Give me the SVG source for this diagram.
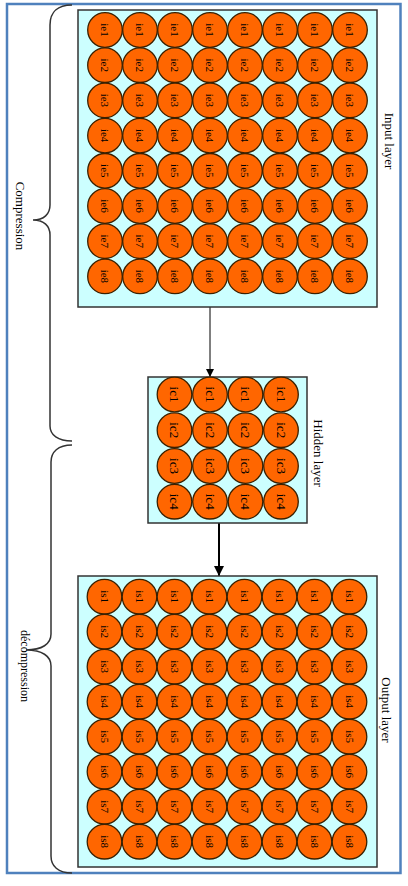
<svg xmlns="http://www.w3.org/2000/svg" width="408" height="886" viewBox="0 0 408 886">
<defs>
<style>
.frame{fill:#fff;stroke:#4f81bd;stroke-width:2.5}
.box{fill:#ccffff;stroke:#333;stroke-width:1.5}
.n{fill:#ff6600;stroke:#3a2000;stroke-width:1.3}
.lb{font-family:"Liberation Serif",serif;font-size:11px;fill:#000;text-anchor:middle;dominant-baseline:central}
.lh{font-family:"Liberation Serif",serif;font-size:13px;fill:#000;text-anchor:middle;dominant-baseline:central}
.tt{font-family:"Liberation Serif",serif;font-size:13px;fill:#000;text-anchor:middle;dominant-baseline:central}
.brace{fill:none;stroke:#333;stroke-width:1.5}
.conn{stroke:#000;fill:none}
</style>
<marker id="ah" viewBox="0 0 10 10" refX="10" refY="5" markerWidth="8" markerHeight="8" markerUnits="userSpaceOnUse" orient="auto"><path d="M0,0 L10,5 L0,10 z" fill="#000"/></marker>
<marker id="ah2" viewBox="0 0 10 10" refX="10" refY="5" markerWidth="10" markerHeight="10" markerUnits="userSpaceOnUse" orient="auto"><path d="M0,0 L10,5 L0,10 z" fill="#000"/></marker>
<circle id="c" r="17.3" class="n"/>
</defs>
<rect class="frame" x="7" y="4" width="393.5" height="869"/>

<g id="braces">
<path class="brace" d="M72,5 C58,5 50,12 50,25 L50,205 C50,214 44,220 33,220 C44,220 50,226 50,235 L50,426 C50,435 58,441 72,441"/>
<path class="brace" d="M72,445 C58,445 51,452 51,462 L51,634 C51,644 42,650 26,650 C42,650 51,656 51,666 L51,856 C51,866 58,873 72,873"/>
<text class="tt" transform="translate(20,216) rotate(90)">Compression</text>
<text class="tt" font-size="12" style="font-size:12px" transform="translate(25,666) rotate(90)">décompression</text>
</g>

<g id="connectors">
<line class="conn" x1="210" y1="307" x2="210" y2="377" stroke-width="1" marker-end="url(#ah)"/>
<line class="conn" x1="219" y1="523" x2="219" y2="576" stroke-width="2" marker-end="url(#ah2)"/>
</g>

<g id="input-layer">
<rect class="box" x="78" y="10" width="299" height="297"/>
<text class="tt" transform="translate(389,141) rotate(90)">Input layer</text>
<g id="input-neurons">
<use href="#c" x="105" y="30"/><use href="#c" x="140" y="30"/><use href="#c" x="175" y="30"/><use href="#c" x="210" y="30"/><use href="#c" x="245" y="30"/><use href="#c" x="280" y="30"/><use href="#c" x="315" y="30"/><use href="#c" x="350" y="30"/>
<use href="#c" x="105" y="65.2"/><use href="#c" x="140" y="65.2"/><use href="#c" x="175" y="65.2"/><use href="#c" x="210" y="65.2"/><use href="#c" x="245" y="65.2"/><use href="#c" x="280" y="65.2"/><use href="#c" x="315" y="65.2"/><use href="#c" x="350" y="65.2"/>
<use href="#c" x="105" y="100.4"/><use href="#c" x="140" y="100.4"/><use href="#c" x="175" y="100.4"/><use href="#c" x="210" y="100.4"/><use href="#c" x="245" y="100.4"/><use href="#c" x="280" y="100.4"/><use href="#c" x="315" y="100.4"/><use href="#c" x="350" y="100.4"/>
<use href="#c" x="105" y="135.6"/><use href="#c" x="140" y="135.6"/><use href="#c" x="175" y="135.6"/><use href="#c" x="210" y="135.6"/><use href="#c" x="245" y="135.6"/><use href="#c" x="280" y="135.6"/><use href="#c" x="315" y="135.6"/><use href="#c" x="350" y="135.6"/>
<use href="#c" x="105" y="170.8"/><use href="#c" x="140" y="170.8"/><use href="#c" x="175" y="170.8"/><use href="#c" x="210" y="170.8"/><use href="#c" x="245" y="170.8"/><use href="#c" x="280" y="170.8"/><use href="#c" x="315" y="170.8"/><use href="#c" x="350" y="170.8"/>
<use href="#c" x="105" y="206"/><use href="#c" x="140" y="206"/><use href="#c" x="175" y="206"/><use href="#c" x="210" y="206"/><use href="#c" x="245" y="206"/><use href="#c" x="280" y="206"/><use href="#c" x="315" y="206"/><use href="#c" x="350" y="206"/>
<use href="#c" x="105" y="241.2"/><use href="#c" x="140" y="241.2"/><use href="#c" x="175" y="241.2"/><use href="#c" x="210" y="241.2"/><use href="#c" x="245" y="241.2"/><use href="#c" x="280" y="241.2"/><use href="#c" x="315" y="241.2"/><use href="#c" x="350" y="241.2"/>
<use href="#c" x="105" y="276.4"/><use href="#c" x="140" y="276.4"/><use href="#c" x="175" y="276.4"/><use href="#c" x="210" y="276.4"/><use href="#c" x="245" y="276.4"/><use href="#c" x="280" y="276.4"/><use href="#c" x="315" y="276.4"/><use href="#c" x="350" y="276.4"/>
</g>
<g id="input-labels">
<text class="lb" transform="translate(105,30) rotate(90)">ie1</text><text class="lb" transform="translate(140,30) rotate(90)">ie1</text><text class="lb" transform="translate(175,30) rotate(90)">ie1</text><text class="lb" transform="translate(210,30) rotate(90)">ie1</text><text class="lb" transform="translate(245,30) rotate(90)">ie1</text><text class="lb" transform="translate(280,30) rotate(90)">ie1</text><text class="lb" transform="translate(315,30) rotate(90)">ie1</text><text class="lb" transform="translate(350,30) rotate(90)">ie1</text>
<text class="lb" transform="translate(105,65.2) rotate(90)">ie2</text><text class="lb" transform="translate(140,65.2) rotate(90)">ie2</text><text class="lb" transform="translate(175,65.2) rotate(90)">ie2</text><text class="lb" transform="translate(210,65.2) rotate(90)">ie2</text><text class="lb" transform="translate(245,65.2) rotate(90)">ie2</text><text class="lb" transform="translate(280,65.2) rotate(90)">ie2</text><text class="lb" transform="translate(315,65.2) rotate(90)">ie2</text><text class="lb" transform="translate(350,65.2) rotate(90)">ie2</text>
<text class="lb" transform="translate(105,100.4) rotate(90)">ie3</text><text class="lb" transform="translate(140,100.4) rotate(90)">ie3</text><text class="lb" transform="translate(175,100.4) rotate(90)">ie3</text><text class="lb" transform="translate(210,100.4) rotate(90)">ie3</text><text class="lb" transform="translate(245,100.4) rotate(90)">ie3</text><text class="lb" transform="translate(280,100.4) rotate(90)">ie3</text><text class="lb" transform="translate(315,100.4) rotate(90)">ie3</text><text class="lb" transform="translate(350,100.4) rotate(90)">ie3</text>
<text class="lb" transform="translate(105,135.6) rotate(90)">ie4</text><text class="lb" transform="translate(140,135.6) rotate(90)">ie4</text><text class="lb" transform="translate(175,135.6) rotate(90)">ie4</text><text class="lb" transform="translate(210,135.6) rotate(90)">ie4</text><text class="lb" transform="translate(245,135.6) rotate(90)">ie4</text><text class="lb" transform="translate(280,135.6) rotate(90)">ie4</text><text class="lb" transform="translate(315,135.6) rotate(90)">ie4</text><text class="lb" transform="translate(350,135.6) rotate(90)">ie4</text>
<text class="lb" transform="translate(105,170.8) rotate(90)">ie5</text><text class="lb" transform="translate(140,170.8) rotate(90)">ie5</text><text class="lb" transform="translate(175,170.8) rotate(90)">ie5</text><text class="lb" transform="translate(210,170.8) rotate(90)">ie5</text><text class="lb" transform="translate(245,170.8) rotate(90)">ie5</text><text class="lb" transform="translate(280,170.8) rotate(90)">ie5</text><text class="lb" transform="translate(315,170.8) rotate(90)">ie5</text><text class="lb" transform="translate(350,170.8) rotate(90)">ie5</text>
<text class="lb" transform="translate(105,206) rotate(90)">ie6</text><text class="lb" transform="translate(140,206) rotate(90)">ie6</text><text class="lb" transform="translate(175,206) rotate(90)">ie6</text><text class="lb" transform="translate(210,206) rotate(90)">ie6</text><text class="lb" transform="translate(245,206) rotate(90)">ie6</text><text class="lb" transform="translate(280,206) rotate(90)">ie6</text><text class="lb" transform="translate(315,206) rotate(90)">ie6</text><text class="lb" transform="translate(350,206) rotate(90)">ie6</text>
<text class="lb" transform="translate(105,241.2) rotate(90)">ie7</text><text class="lb" transform="translate(140,241.2) rotate(90)">ie7</text><text class="lb" transform="translate(175,241.2) rotate(90)">ie7</text><text class="lb" transform="translate(210,241.2) rotate(90)">ie7</text><text class="lb" transform="translate(245,241.2) rotate(90)">ie7</text><text class="lb" transform="translate(280,241.2) rotate(90)">ie7</text><text class="lb" transform="translate(315,241.2) rotate(90)">ie7</text><text class="lb" transform="translate(350,241.2) rotate(90)">ie7</text>
<text class="lb" transform="translate(105,276.4) rotate(90)">ie8</text><text class="lb" transform="translate(140,276.4) rotate(90)">ie8</text><text class="lb" transform="translate(175,276.4) rotate(90)">ie8</text><text class="lb" transform="translate(210,276.4) rotate(90)">ie8</text><text class="lb" transform="translate(245,276.4) rotate(90)">ie8</text><text class="lb" transform="translate(280,276.4) rotate(90)">ie8</text><text class="lb" transform="translate(315,276.4) rotate(90)">ie8</text><text class="lb" transform="translate(350,276.4) rotate(90)">ie8</text>
</g>
</g>

<g id="hidden-layer">
<rect class="box" x="148" y="377" width="159" height="146"/>
<text class="tt" transform="translate(318,453) rotate(90)">Hidden layer</text>
<g id="hidden-neurons">
<use href="#c" x="174.5" y="394.5"/><use href="#c" x="210" y="394.5"/><use href="#c" x="245.5" y="394.5"/><use href="#c" x="281" y="394.5"/>
<use href="#c" x="174.5" y="430.2"/><use href="#c" x="210" y="430.2"/><use href="#c" x="245.5" y="430.2"/><use href="#c" x="281" y="430.2"/>
<use href="#c" x="174.5" y="466"/><use href="#c" x="210" y="466"/><use href="#c" x="245.5" y="466"/><use href="#c" x="281" y="466"/>
<use href="#c" x="174.5" y="501.7"/><use href="#c" x="210" y="501.7"/><use href="#c" x="245.5" y="501.7"/><use href="#c" x="281" y="501.7"/>
</g>
<g id="hidden-labels">
<text class="lh" transform="translate(174.5,394.5) rotate(90)">ic1</text><text class="lh" transform="translate(210,394.5) rotate(90)">ic1</text><text class="lh" transform="translate(245.5,394.5) rotate(90)">ic1</text><text class="lh" transform="translate(281,394.5) rotate(90)">ic1</text>
<text class="lh" transform="translate(174.5,430.2) rotate(90)">ic2</text><text class="lh" transform="translate(210,430.2) rotate(90)">ic2</text><text class="lh" transform="translate(245.5,430.2) rotate(90)">ic2</text><text class="lh" transform="translate(281,430.2) rotate(90)">ic2</text>
<text class="lh" transform="translate(174.5,466) rotate(90)">ic3</text><text class="lh" transform="translate(210,466) rotate(90)">ic3</text><text class="lh" transform="translate(245.5,466) rotate(90)">ic3</text><text class="lh" transform="translate(281,466) rotate(90)">ic3</text>
<text class="lh" transform="translate(174.5,501.7) rotate(90)">ic4</text><text class="lh" transform="translate(210,501.7) rotate(90)">ic4</text><text class="lh" transform="translate(245.5,501.7) rotate(90)">ic4</text><text class="lh" transform="translate(281,501.7) rotate(90)">ic4</text>
</g>
</g>

<g id="output-layer">
<rect class="box" x="78" y="576" width="299" height="291"/>
<text class="tt" transform="translate(386,710) rotate(90)">Output layer</text>
<g id="output-neurons">
<use href="#c" x="104.5" y="596.7"/><use href="#c" x="139.5" y="596.7"/><use href="#c" x="174.5" y="596.7"/><use href="#c" x="209.5" y="596.7"/><use href="#c" x="244.5" y="596.7"/><use href="#c" x="279.5" y="596.7"/><use href="#c" x="314.5" y="596.7"/><use href="#c" x="349.5" y="596.7"/>
<use href="#c" x="104.5" y="631.7"/><use href="#c" x="139.5" y="631.7"/><use href="#c" x="174.5" y="631.7"/><use href="#c" x="209.5" y="631.7"/><use href="#c" x="244.5" y="631.7"/><use href="#c" x="279.5" y="631.7"/><use href="#c" x="314.5" y="631.7"/><use href="#c" x="349.5" y="631.7"/>
<use href="#c" x="104.5" y="666.7"/><use href="#c" x="139.5" y="666.7"/><use href="#c" x="174.5" y="666.7"/><use href="#c" x="209.5" y="666.7"/><use href="#c" x="244.5" y="666.7"/><use href="#c" x="279.5" y="666.7"/><use href="#c" x="314.5" y="666.7"/><use href="#c" x="349.5" y="666.7"/>
<use href="#c" x="104.5" y="701.7"/><use href="#c" x="139.5" y="701.7"/><use href="#c" x="174.5" y="701.7"/><use href="#c" x="209.5" y="701.7"/><use href="#c" x="244.5" y="701.7"/><use href="#c" x="279.5" y="701.7"/><use href="#c" x="314.5" y="701.7"/><use href="#c" x="349.5" y="701.7"/>
<use href="#c" x="104.5" y="736.7"/><use href="#c" x="139.5" y="736.7"/><use href="#c" x="174.5" y="736.7"/><use href="#c" x="209.5" y="736.7"/><use href="#c" x="244.5" y="736.7"/><use href="#c" x="279.5" y="736.7"/><use href="#c" x="314.5" y="736.7"/><use href="#c" x="349.5" y="736.7"/>
<use href="#c" x="104.5" y="771.7"/><use href="#c" x="139.5" y="771.7"/><use href="#c" x="174.5" y="771.7"/><use href="#c" x="209.5" y="771.7"/><use href="#c" x="244.5" y="771.7"/><use href="#c" x="279.5" y="771.7"/><use href="#c" x="314.5" y="771.7"/><use href="#c" x="349.5" y="771.7"/>
<use href="#c" x="104.5" y="806.7"/><use href="#c" x="139.5" y="806.7"/><use href="#c" x="174.5" y="806.7"/><use href="#c" x="209.5" y="806.7"/><use href="#c" x="244.5" y="806.7"/><use href="#c" x="279.5" y="806.7"/><use href="#c" x="314.5" y="806.7"/><use href="#c" x="349.5" y="806.7"/>
<use href="#c" x="104.5" y="841.7"/><use href="#c" x="139.5" y="841.7"/><use href="#c" x="174.5" y="841.7"/><use href="#c" x="209.5" y="841.7"/><use href="#c" x="244.5" y="841.7"/><use href="#c" x="279.5" y="841.7"/><use href="#c" x="314.5" y="841.7"/><use href="#c" x="349.5" y="841.7"/>
</g>
<g id="output-labels">
<text class="lb" transform="translate(104.5,596.7) rotate(90)">is1</text><text class="lb" transform="translate(139.5,596.7) rotate(90)">is1</text><text class="lb" transform="translate(174.5,596.7) rotate(90)">is1</text><text class="lb" transform="translate(209.5,596.7) rotate(90)">is1</text><text class="lb" transform="translate(244.5,596.7) rotate(90)">is1</text><text class="lb" transform="translate(279.5,596.7) rotate(90)">is1</text><text class="lb" transform="translate(314.5,596.7) rotate(90)">is1</text><text class="lb" transform="translate(349.5,596.7) rotate(90)">is1</text>
<text class="lb" transform="translate(104.5,631.7) rotate(90)">is2</text><text class="lb" transform="translate(139.5,631.7) rotate(90)">is2</text><text class="lb" transform="translate(174.5,631.7) rotate(90)">is2</text><text class="lb" transform="translate(209.5,631.7) rotate(90)">is2</text><text class="lb" transform="translate(244.5,631.7) rotate(90)">is2</text><text class="lb" transform="translate(279.5,631.7) rotate(90)">is2</text><text class="lb" transform="translate(314.5,631.7) rotate(90)">is2</text><text class="lb" transform="translate(349.5,631.7) rotate(90)">is2</text>
<text class="lb" transform="translate(104.5,666.7) rotate(90)">is3</text><text class="lb" transform="translate(139.5,666.7) rotate(90)">is3</text><text class="lb" transform="translate(174.5,666.7) rotate(90)">is3</text><text class="lb" transform="translate(209.5,666.7) rotate(90)">is3</text><text class="lb" transform="translate(244.5,666.7) rotate(90)">is3</text><text class="lb" transform="translate(279.5,666.7) rotate(90)">is3</text><text class="lb" transform="translate(314.5,666.7) rotate(90)">is3</text><text class="lb" transform="translate(349.5,666.7) rotate(90)">is3</text>
<text class="lb" transform="translate(104.5,701.7) rotate(90)">is4</text><text class="lb" transform="translate(139.5,701.7) rotate(90)">is4</text><text class="lb" transform="translate(174.5,701.7) rotate(90)">is4</text><text class="lb" transform="translate(209.5,701.7) rotate(90)">is4</text><text class="lb" transform="translate(244.5,701.7) rotate(90)">is4</text><text class="lb" transform="translate(279.5,701.7) rotate(90)">is4</text><text class="lb" transform="translate(314.5,701.7) rotate(90)">is4</text><text class="lb" transform="translate(349.5,701.7) rotate(90)">is4</text>
<text class="lb" transform="translate(104.5,736.7) rotate(90)">is5</text><text class="lb" transform="translate(139.5,736.7) rotate(90)">is5</text><text class="lb" transform="translate(174.5,736.7) rotate(90)">is5</text><text class="lb" transform="translate(209.5,736.7) rotate(90)">is5</text><text class="lb" transform="translate(244.5,736.7) rotate(90)">is5</text><text class="lb" transform="translate(279.5,736.7) rotate(90)">is5</text><text class="lb" transform="translate(314.5,736.7) rotate(90)">is5</text><text class="lb" transform="translate(349.5,736.7) rotate(90)">is5</text>
<text class="lb" transform="translate(104.5,771.7) rotate(90)">is6</text><text class="lb" transform="translate(139.5,771.7) rotate(90)">is6</text><text class="lb" transform="translate(174.5,771.7) rotate(90)">is6</text><text class="lb" transform="translate(209.5,771.7) rotate(90)">is6</text><text class="lb" transform="translate(244.5,771.7) rotate(90)">is6</text><text class="lb" transform="translate(279.5,771.7) rotate(90)">is6</text><text class="lb" transform="translate(314.5,771.7) rotate(90)">is6</text><text class="lb" transform="translate(349.5,771.7) rotate(90)">is6</text>
<text class="lb" transform="translate(104.5,806.7) rotate(90)">is7</text><text class="lb" transform="translate(139.5,806.7) rotate(90)">is7</text><text class="lb" transform="translate(174.5,806.7) rotate(90)">is7</text><text class="lb" transform="translate(209.5,806.7) rotate(90)">is7</text><text class="lb" transform="translate(244.5,806.7) rotate(90)">is7</text><text class="lb" transform="translate(279.5,806.7) rotate(90)">is7</text><text class="lb" transform="translate(314.5,806.7) rotate(90)">is7</text><text class="lb" transform="translate(349.5,806.7) rotate(90)">is7</text>
<text class="lb" transform="translate(104.5,841.7) rotate(90)">is8</text><text class="lb" transform="translate(139.5,841.7) rotate(90)">is8</text><text class="lb" transform="translate(174.5,841.7) rotate(90)">is8</text><text class="lb" transform="translate(209.5,841.7) rotate(90)">is8</text><text class="lb" transform="translate(244.5,841.7) rotate(90)">is8</text><text class="lb" transform="translate(279.5,841.7) rotate(90)">is8</text><text class="lb" transform="translate(314.5,841.7) rotate(90)">is8</text><text class="lb" transform="translate(349.5,841.7) rotate(90)">is8</text>
</g>
</g>
</svg>
